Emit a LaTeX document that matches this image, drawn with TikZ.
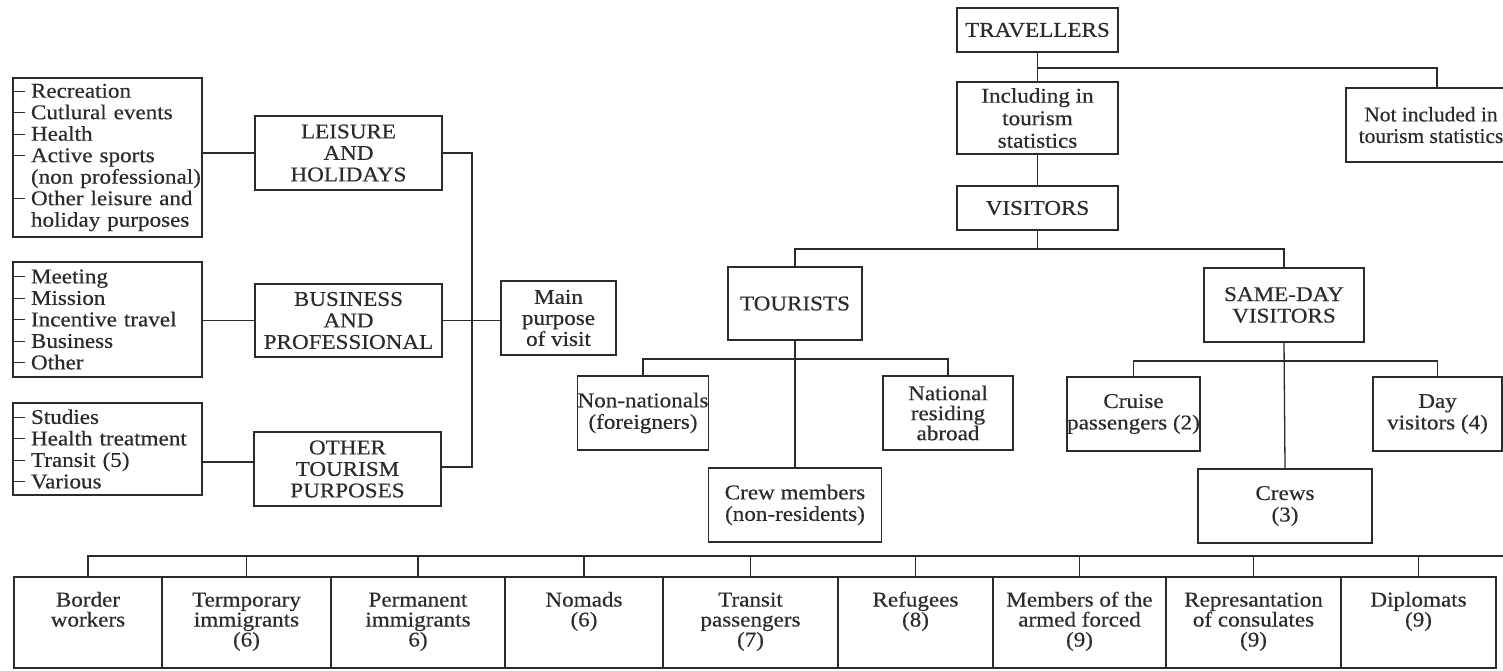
\documentclass[tikz,border=0pt]{standalone}
\usepackage{fontspec}
\setmainfont{Liberation Serif}[FakeStretch=1.1,FakeBold=0.4]
\newfontfamily\narrowserif{Liberation Serif}[FakeStretch=1.02,FakeBold=0.4]
\definecolor{ink}{gray}{0.17}
\newcommand\fsz{\fontsize{21}{21.5}\selectfont}
\newcommand\itm[1]{\rule[6pt]{12pt}{1pt}\hspace{6pt}#1}
\newcommand\cnt[1]{\hspace*{18pt}#1}
\tikzset{
  bx/.style={draw=ink, text=ink, line width=1.3pt, rectangle, inner sep=0pt, align=center, font=\fsz},
  lst/.style={draw=ink, text=ink, line width=1.3pt, rectangle, inner sep=0pt, align=left, text width=189pt, font=\fsz},
  bt/.style={bx, minimum height=91pt, text height=53pt, text depth=5pt, font=\fontsize{21}{20}\selectfont},
  wire/.style={draw=ink, line width=1.3pt, line join=miter},
}
\begin{document}
\begin{tikzpicture}[x=1pt,y=-1pt]
\useasboundingbox (0,0) rectangle (1503,671);
\clip (0,0) rectangle (1503,671);
\fill[white] (0,0) rectangle (1503,671);

% right tree
\node[bx, minimum width=161pt, minimum height=44pt] (trav) at (1037.5,30) {TRAVELLERS};
\node[bx, minimum width=161pt, minimum height=72pt, font=\fontsize{21}{22.5}\selectfont] (incl) at (1037.5,118) {Including in\\tourism\\statistics};
\node[bx, minimum width=170pt, minimum height=74pt, font=\narrowserif\fsz] (notinc) at (1431,125) {Not included in\\tourism statistics};
\node[bx, minimum width=161pt, minimum height=44pt] (vis) at (1037.5,208) {VISITORS};
\node[bx, minimum width=134pt, minimum height=73pt] (tour) at (795,303.5) {TOURISTS};
\node[bx, minimum width=160pt, minimum height=74pt] (same) at (1284,305) {SAME-DAY\\VISITORS};
\node[bx, minimum width=130pt, minimum height=74pt] (nonnat) at (643,413) {Non-nationals\\(foreigners)};
\node[bx, minimum width=130pt, minimum height=74pt, font=\fontsize{21}{20}\selectfont] (natres) at (948,413) {National\\residing\\abroad};
\node[bx, minimum width=173pt, minimum height=74pt] (crewm) at (795,505) {Crew members\\(non-residents)};
\node[bx, minimum width=131pt, minimum height=74pt] (cruise) at (1133.5,414) {Cruise\\passengers (2)};
\node[bx, minimum width=129pt, minimum height=74pt] (dayv) at (1437.5,414) {Day\\visitors (4)};
\node[bx, minimum width=174pt, minimum height=74pt] (crews) at (1285,506) {Crews\\(3)};

% left part
\node[bx, minimum width=115pt, minimum height=74pt, font=\fontsize{21}{21}\selectfont] (mainp) at (558.5,318) {Main\\purpose\\of visit};
\node[bx, minimum width=187pt, minimum height=74pt] (leis) at (348.5,153) {LEISURE\\AND\\HOLIDAYS};
\node[bx, minimum width=187pt, minimum height=73pt] (bus) at (348.5,320.5) {BUSINESS\\AND\\PROFESSIONAL};
\node[bx, minimum width=187pt, minimum height=74pt] (oth) at (347.5,469) {OTHER\\TOURISM\\PURPOSES};
\node[lst, minimum height=159pt] (l1) at (107.5,157.5) {\itm{Recreation}\\\itm{Cutlural events}\\\itm{Health}\\\itm{Active sports}\\\cnt{(non professional)}\\\itm{Other leisure and}\\\cnt{holiday purposes}};
\node[lst, minimum height=115pt] (l2) at (107.5,319.5) {\itm{Meeting}\\\itm{Mission}\\\itm{Incentive travel}\\\itm{Business}\\\itm{Other}};
\node[lst, minimum height=92pt] (l3) at (107.5,449) {\itm{Studies}\\\itm{Health treatment}\\\itm{Transit (5)}\\\itm{Various}};

% bottom row
\node[bt, minimum width=148pt] (b1) at (88,622.5) {Border\\workers\\\mbox{}};
\node[bt, minimum width=169pt] (b2) at (246.5,622.5) {Termporary\\immigrants\\(6)};
\node[bt, minimum width=174pt] (b3) at (418,622.5) {Permanent\\immigrants\\6)};
\node[bt, minimum width=158pt] (b4) at (584,622.5) {Nomads\\(6)\\\mbox{}};
\node[bt, minimum width=175pt] (b5) at (750.5,622.5) {Transit\\passengers\\(7)};
\node[bt, minimum width=155pt] (b6) at (915.5,622.5) {Refugees\\(8)\\\mbox{}};
\node[bt, minimum width=173pt] (b7) at (1079.5,622.5) {Members of the\\armed forced\\(9)};
\node[bt, minimum width=175pt] (b8) at (1253.5,622.5) {Represantation\\of consulates\\(9)};
\node[bt, minimum width=155pt] (b9) at (1418.5,622.5) {Diplomats\\(9)\\\mbox{}};

% junction coordinates
\coordinate (jT) at (0,68);
\coordinate (jV) at (0,249);
\coordinate (jTo) at (0,359);
\coordinate (jS) at (0,361);
\coordinate (jB) at (0,556);
\coordinate (jR) at (1503,556);
\coordinate (br) at (472,467);
\coordinate (l3y) at (0,462);

% connectors
\draw[wire] (trav.south) -- (incl.north);
\draw[wire] (trav.south |- jT) -| ([xshift=6pt]notinc.north);
\draw[wire] (incl.south) -- (vis.north);
\draw[wire] (vis.south) -- (vis.south |- jV);
\draw[wire] (tour.north) -- (tour.north |- jV) -- (same.north |- jV) -- (same.north);
\draw[wire] (tour.south) -- (crewm.north);
\draw[wire] (nonnat.north) -- (nonnat.north |- jTo) -- (natres.north |- jTo) -- (natres.north);
\draw[wire] (same.south) -- (crews.north);
\draw[wire] (cruise.north) -- (cruise.north |- jS) -- (dayv.north |- jS) -- (dayv.north);
\draw[wire] (l1.east |- leis.west) -- (leis.west);
\draw[wire] (l2.east |- bus.west) -- (bus.west);
\draw[wire] (l3.east |- l3y) -- (oth.west |- l3y);
\draw[wire] (leis.east) -| (br) -- (oth.east |- br);
\draw[wire] (bus.east) -- (mainp.west |- bus.east);
\draw[wire] (b1.north) -- (b1.north |- jB) -- (jR);
\foreach \b in {b2,b3,b4,b5,b6,b7,b8,b9}
  \draw[wire] (\b.north) -- (\b.north |- jB);
\end{tikzpicture}
\end{document}
